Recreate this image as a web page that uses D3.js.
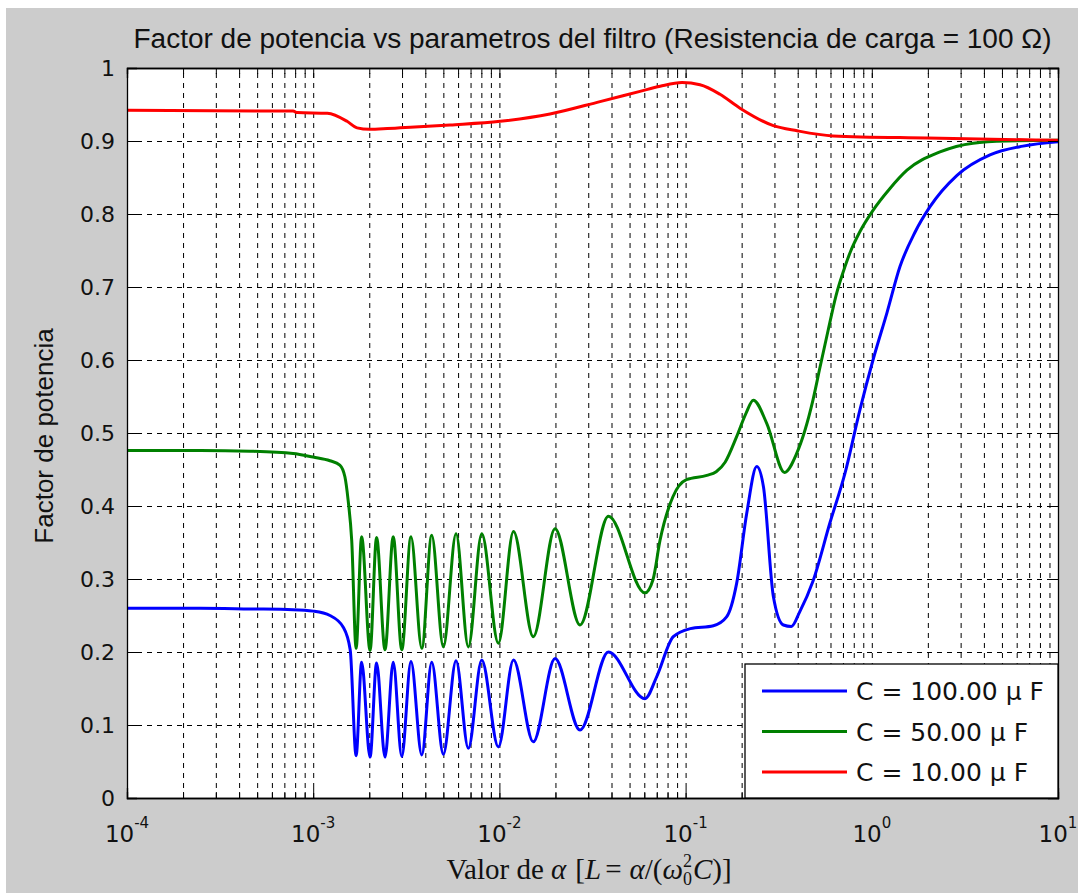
<!DOCTYPE html>
<html>
  <head>
    <meta charset="utf-8">
    <title>Factor de potencia vs parametros del filtro</title>
    <script src="https://cdn.jsdelivr.net/npm/d3@7"></script>
    <style>
      body { margin: 0; background: #fff; }
      svg { display: block; }
    </style>
  </head>
  <body>
    <script>

// size of the figure and of the axes box inside it
// (not called "top": that name is taken by window.top)
var w = 1078;
var h = 893;
var boxLeft = 127, boxRight = 1058, boxTop = 68, boxBottom = 798;

// data: alpha values and power factor for each capacitor
var alphaC100 = [1e-4, 2.47e-4, 4.58e-4, 7.8e-4, 1.0e-3, 1.23e-3, 1.45e-3, 1.58e-3, 1.70e-3, 1.82e-3,
  2.02e-3, 2.19e-3, 2.43e-3, 2.69e-3, 2.99e-3, 3.35e-3, 3.83e-3, 4.33e-3, 5.0e-3, 5.85e-3,
  6.81e-3, 8.04e-3, 9.87e-3, 1.19e-2, 1.52e-2, 1.99e-2, 2.71e-2, 3.85e-2, 6.05e-2, 6.99e-2,
  8.59e-2, 0.106, 0.141, 0.166, 0.188, 0.213, 0.241, 0.262, 0.296, 0.335,
  0.37, 0.41, 0.483, 0.596, 0.718, 0.864, 1.015, 1.207, 1.417, 1.706,
  2.054, 2.869, 4.313, 6.486, 10];
var pfC100 = [0.26, 0.26, 0.259, 0.258, 0.256, 0.25, 0.234, 0.203, 0.058, 0.186,
  0.056, 0.185, 0.056, 0.186, 0.057, 0.187, 0.059, 0.186, 0.06, 0.188,
  0.068, 0.189, 0.07, 0.189, 0.077, 0.191, 0.093, 0.2, 0.136, 0.166,
  0.221, 0.232, 0.236, 0.248, 0.294, 0.39, 0.454, 0.426, 0.276, 0.237,
  0.235, 0.255, 0.297, 0.377, 0.445, 0.532, 0.6, 0.665, 0.728, 0.775,
  0.81, 0.853, 0.881, 0.893, 0.899];

var alphaC50 = [1e-4, 2.47e-4, 4.58e-4, 7.8e-4, 1.0e-3, 1.23e-3, 1.39e-3, 1.48e-3, 1.54e-3, 1.61e-3,
  1.70e-3, 1.82e-3, 2.02e-3, 2.19e-3, 2.43e-3, 2.69e-3, 2.99e-3, 3.35e-3, 3.83e-3, 4.33e-3,
  5.0e-3, 5.85e-3, 6.81e-3, 8.04e-3, 9.87e-3, 1.19e-2, 1.52e-2, 1.99e-2, 2.71e-2, 3.85e-2,
  6.05e-2, 6.68e-2, 7.29e-2, 8.56e-2, 0.101, 0.13, 0.146, 0.163, 0.188, 0.211,
  0.231, 0.273, 0.34, 0.395, 0.483, 0.527, 0.582, 0.642, 0.718, 0.764,
  0.864, 1.015, 1.252, 1.545, 2.324, 3.496, 5.322, 10];
var pfC50 = [0.476, 0.476, 0.475, 0.472, 0.467, 0.462, 0.456, 0.44, 0.408, 0.353,
  0.205, 0.358, 0.202, 0.357, 0.203, 0.358, 0.203, 0.358, 0.205, 0.36,
  0.207, 0.362, 0.207, 0.362, 0.212, 0.365, 0.221, 0.369, 0.237, 0.386,
  0.281, 0.299, 0.353, 0.413, 0.436, 0.442, 0.447, 0.46, 0.495, 0.527,
  0.545, 0.513, 0.446, 0.472, 0.545, 0.59, 0.64, 0.688, 0.728, 0.747,
  0.776, 0.805, 0.835, 0.86, 0.885, 0.897, 0.9, 0.901];

var alphaC10 = [1e-4, 7.8e-4, 8.2e-4, 1.19e-3, 1.52e-3, 1.72e-3, 2.0e-3, 2.5e-3, 2.93e-3, 5.43e-3,
  1.01e-2, 1.87e-2, 3.47e-2, 5.69e-2, 7.3e-2, 9.57e-2, 0.1195, 0.153, 0.196, 0.296,
  0.397, 0.619, 1.98, 10];
var pfC10 = [0.942, 0.941, 0.939, 0.938, 0.927, 0.918, 0.916, 0.917, 0.918, 0.922,
  0.927, 0.937, 0.954, 0.968, 0.975, 0.98, 0.977, 0.964, 0.945, 0.921,
  0.914, 0.907, 0.904, 0.901];

// ticks and labels
var xTicks = [1e-4, 1e-3, 1e-2, 1e-1, 1, 10];
var xTickExp = ["-4", "-3", "-2", "-1", "0", "1"];
var yTicks = [0, 0.1, 0.2, 0.3, 0.4, 0.5, 0.6, 0.7, 0.8, 0.9, 1];
var legendLabels = ["C = 100.00 \u03bc F", "C = 50.00 \u03bc F", "C = 10.00 \u03bc F"];
var colors = ["#0000ff", "#008000", "#ff0000"];

var series = [
  alphaC100.map(function(a, i) { return [a, pfC100[i]]; }),
  alphaC50.map(function(a, i) { return [a, pfC50[i]]; }),
  alphaC10.map(function(a, i) { return [a, pfC10[i]]; })
];

// minor log ticks 2..9 in every decade
var xMinor = [];
for (var d = -4; d < 1; d++) {
  for (var k = 2; k < 10; k++) xMinor.push(k * Math.pow(10, d));
}

var xScale = d3.scaleLog().domain([1e-4, 10]).range([boxLeft, boxRight]);
var yScale = d3.scaleLinear().domain([0, 1]).range([boxBottom, boxTop]);

var svg = d3.select("body").append("svg")
  .attr("width", w)
  .attr("height", h);

// gray figure background
svg.append("rect")
  .attr("x", 6).attr("y", 8)
  .attr("width", w - 6).attr("height", h - 8)
  .attr("fill", "#cccccc");

svg.append("rect")
  .attr("x", boxLeft).attr("y", boxTop)
  .attr("width", boxRight - boxLeft).attr("height", boxBottom - boxTop)
  .attr("fill", "#fff");

// grid lines (dotted in the original), drawn as axes with long ticks
var gridX = svg.append("g")
  .attr("transform", "translate(0," + boxBottom + ")")
  .call(d3.axisBottom(xScale)
    .tickValues(xTicks.slice(1, -1).concat(xMinor.filter(function(v) { return v > 1e-4 && v < 10; })))
    .tickSize(-(boxBottom - boxTop)).tickFormat(""));
var gridY = svg.append("g")
  .attr("transform", "translate(" + boxLeft + ",0)")
  .call(d3.axisLeft(yScale)
    .tickValues(yTicks.slice(1, -1))
    .tickSize(-(boxRight - boxLeft)).tickFormat(""));
[gridX, gridY].forEach(function(g) {
  g.select(".domain").remove();
  g.selectAll("line")
    .attr("stroke", "#000")
    .attr("stroke-dasharray", "5,5");
});

// curves
svg.append("clipPath").attr("id", "plotclip")
  .append("rect")
  .attr("x", boxLeft).attr("y", boxTop)
  .attr("width", boxRight - boxLeft).attr("height", boxBottom - boxTop);

var line = d3.line()
  .x(function(d) { return xScale(d[0]); })
  .y(function(d) { return yScale(d[1]); })
  .curve(d3.curveMonotoneX);

svg.append("g").attr("clip-path", "url(#plotclip)")
  .selectAll("path")
  .data(series)
  .enter()
  .append("path")
  .attr("d", line)
  .attr("fill", "none")
  .attr("stroke", function(d, i) { return colors[i]; })
  .attr("stroke-width", 3)
  .attr("stroke-linejoin", "round");

// axes: ticks point inwards on all four sides
var tickFont = "'DejaVu Sans', sans-serif";

var axBottom = svg.append("g")
  .attr("transform", "translate(0," + boxBottom + ")")
  .call(d3.axisBottom(xScale).tickValues(xTicks).tickSize(-10).tickFormat(""));
var axBottomMinor = svg.append("g")
  .attr("transform", "translate(0," + boxBottom + ")")
  .call(d3.axisBottom(xScale).tickValues(xMinor).tickSize(-6).tickFormat(""));
var axTop = svg.append("g")
  .attr("transform", "translate(0," + boxTop + ")")
  .call(d3.axisTop(xScale).tickValues(xTicks).tickSize(-10).tickFormat(""));
var axTopMinor = svg.append("g")
  .attr("transform", "translate(0," + boxTop + ")")
  .call(d3.axisTop(xScale).tickValues(xMinor).tickSize(-6).tickFormat(""));
var axLeft = svg.append("g")
  .attr("transform", "translate(" + boxLeft + ",0)")
  .call(d3.axisLeft(yScale).tickValues(yTicks).tickSize(-10).tickPadding(12)
    .tickFormat(function(d) { return +d.toFixed(1) + ""; }));
var axRight = svg.append("g")
  .attr("transform", "translate(" + boxRight + ",0)")
  .call(d3.axisRight(yScale).tickValues(yTicks).tickSize(-10).tickFormat(""));

[axBottom, axBottomMinor, axTop, axTopMinor, axLeft, axRight].forEach(function(g) {
  g.select(".domain").attr("stroke", "#000").attr("stroke-width", 1.3);
  g.selectAll(".tick line").attr("stroke", "#000");
});

axLeft.selectAll("text")
  .attr("font-family", tickFont)
  .attr("font-size", 22)
  .attr("fill", "#111");

// x tick labels 10^n
var xLab = svg.append("g").selectAll("text")
  .data(xTicks)
  .enter()
  .append("text")
  .attr("x", function(d) { return xScale(d); })
  .attr("y", 842)
  .attr("text-anchor", "middle")
  .attr("font-family", tickFont)
  .attr("font-size", 23)
  .attr("fill", "#111");
xLab.append("tspan").text("10");
xLab.append("tspan")
  .attr("font-size", 15)
  .attr("dy", -14)
  .text(function(d, i) { return xTickExp[i]; });

// title and axis labels
svg.append("text")
  .attr("x", (boxLeft + boxRight) / 2)
  .attr("y", 48)
  .attr("text-anchor", "middle")
  .attr("font-family", "'Liberation Sans', Arial, sans-serif")
  .attr("font-size", 27)
  .attr("fill", "#111")
  .attr("textLength", 918)
  .attr("lengthAdjust", "spacingAndGlyphs")
  .text("Factor de potencia vs parametros del filtro (Resistencia de carga = 100 \u03a9)");

svg.append("text")
  .attr("transform", "translate(53," + 436 + ") rotate(-90)")
  .attr("text-anchor", "middle")
  .attr("font-family", "'Liberation Sans', Arial, sans-serif")
  .attr("font-size", 26)
  .attr("fill", "#111")
  .text("Factor de potencia");

var xl = svg.append("text")
  .attr("x", 589)
  .attr("y", 879)
  .attr("text-anchor", "middle")
  .attr("font-family", "'Liberation Serif', 'DejaVu Serif', serif")
  .attr("font-size", 29)
  .attr("fill", "#111");
xl.append("tspan").text("Valor de ");
xl.append("tspan").attr("font-style", "italic").text("\u03b1");
xl.append("tspan").attr("dx", 9).text("[");
xl.append("tspan").attr("font-style", "italic").text("L");
xl.append("tspan").attr("dx", 4).text("=");
xl.append("tspan").attr("dx", 8).attr("font-style", "italic").text("\u03b1");
xl.append("tspan").text("/(");
xl.append("tspan").attr("font-style", "italic").text("\u03c9");
xl.append("tspan").attr("font-size", 18).attr("dy", -12).text("2");
xl.append("tspan").attr("font-size", 18).attr("dx", -9).attr("dy", 18).text("0");
xl.append("tspan").attr("font-style", "italic").attr("dx", 1).attr("dy", -6).text("C");
xl.append("tspan").text(")]");

// legend
var legend = svg.append("g");
legend.append("rect")
  .attr("x", 745).attr("y", 664)
  .attr("width", boxRight - 745).attr("height", boxBottom - 664)
  .attr("fill", "#fff")
  .attr("stroke", "#000")
  .attr("stroke-width", 1.3);

var items = legend.selectAll(".item")
  .data(legendLabels)
  .enter()
  .append("g")
  .attr("class", "item")
  .attr("transform", function(d, i) { return "translate(0," + (691 + i * 40.5) + ")"; });
items.append("line")
  .attr("x1", 762).attr("x2", 847)
  .attr("stroke", function(d, i) { return colors[i]; })
  .attr("stroke-width", 3);
items.append("text")
  .attr("x", 856)
  .attr("y", 9)
  .attr("font-family", tickFont)
  .attr("font-size", 25)
  .attr("fill", "#111")
  .text(function(d) { return d; });

    </script>
  </body>
</html>
